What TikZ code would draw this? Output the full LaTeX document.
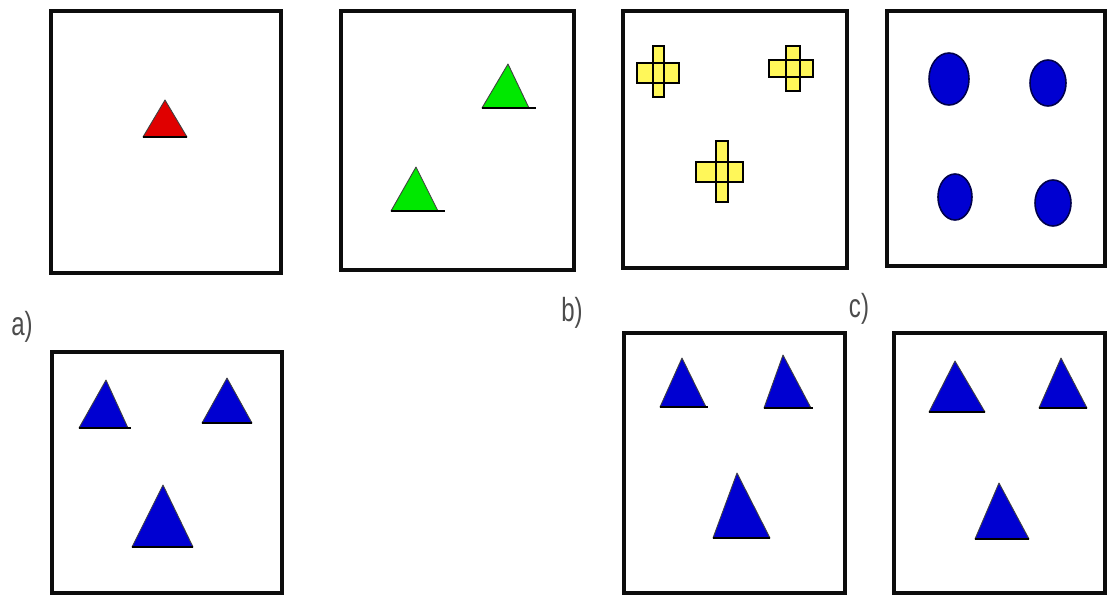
\documentclass[tikz,border=0pt]{standalone}
\usepackage{fontspec}
\setsansfont{Liberation Sans}
\usetikzlibrary{positioning}

\begin{document}
\begin{tikzpicture}[
  x=0.02cm, y=-0.02cm,
  frame/.style={draw=black!95, line width=1.8pt},
  tri/.style  ={draw=black!75, line width=0.5pt, line join=round},
  base/.style ={black, line width=1.4pt},
  plus/.style ={fill=yellow!65, draw=black, line width=1.1pt},
  blob/.style ={fill=blue!82!black, draw=blue!30!black, line width=0.9pt},
  lbl/.style  ={font=\sffamily\fontsize{19}{20}\selectfont, text=black!70,
                inner sep=0pt, xscale=0.72},
  redt/.style ={tri, fill=red!88!black},
  greent/.style={tri, fill=green!85!black!60!green},
  bluet/.style={tri, fill=blue!82!black}
]
\useasboundingbox (0,0) rectangle (1107,596);

%% ---- Frames --------------------------------------------------------
\draw[frame] (51,11)   rectangle (281,273);
\draw[frame] (341,11)  rectangle (574,270);
\draw[frame] (623,11)  rectangle (847,268);
\draw[frame] (887,11)  rectangle (1105,266);
\draw[frame] (52,352)  rectangle (282,593);
\draw[frame] (624,333) rectangle (845,593);
\draw[frame] (894,333) rectangle (1105,593);

%% ---- Labels --------------------------------------------------------
\node[lbl] (la) at (22,327)  {a)};
\node[lbl] (lb) at (572,313) {b)};
\node[lbl] (lc) at (859,309) {c)};

%% ---- Red triangle --------------------------------------------------
\filldraw[redt] (143,137) -- (187,137) -- (165,100) -- cycle;
\draw[base] (143,137) -- (187,137);

%% ---- Green triangles ----------------------------------------------
\filldraw[greent] (482,108) -- (529,108) -- (508,64) -- cycle;
\draw[base] (482,108) -- (536,108);
\filldraw[greent] (391,211) -- (438,211) -- (416,167) -- cycle;
\draw[base] (391,211) -- (445,211);

%% ---- Yellow crosses -----------------------------------------------
\fill[plus, draw=none] (637,63) rectangle (679,83) (653,46) rectangle (664,97);
\draw[plus, fill=none] (637,63) rectangle (679,83) (653,46) rectangle (664,97);
\fill[plus, draw=none] (769,60) rectangle (813,77) (786,46) rectangle (800,91);
\draw[plus, fill=none] (769,60) rectangle (813,77) (786,46) rectangle (800,91);
\fill[plus, draw=none] (696,162) rectangle (743,182) (716,141) rectangle (728,202);
\draw[plus, fill=none] (696,162) rectangle (743,182) (716,141) rectangle (728,202);

%% ---- Blue dots -----------------------------------------------------
\filldraw[blob] (949,79)  ellipse [x radius=20, y radius=26];
\filldraw[blob] (1048,83) ellipse [x radius=18, y radius=23];
\filldraw[blob] (955,197) ellipse [x radius=17, y radius=23];
\filldraw[blob] (1053,203) ellipse [x radius=18, y radius=23];

%% ---- Blue triangles: a) -------------------------------------------
\filldraw[bluet] (79,428) -- (128,428) -- (106,380) -- cycle;
\draw[base] (79,428) -- (131,428);
\filldraw[bluet] (202,423) -- (252,423) -- (227,378) -- cycle;
\draw[base] (202,423) -- (252,423);
\filldraw[bluet] (132,547) -- (193,547) -- (163,485) -- cycle;
\draw[base] (132,547) -- (193,547);

%% ---- Blue triangles: b) -------------------------------------------
\filldraw[bluet] (660,407) -- (706,407) -- (682,358) -- cycle;
\draw[base] (660,407) -- (708,407);
\filldraw[bluet] (764,408) -- (811,408) -- (783,355) -- cycle;
\draw[base] (764,408) -- (813,408);
\filldraw[bluet] (713,538) -- (770,538) -- (737,473) -- cycle;
\draw[base] (713,538) -- (770,538);

%% ---- Blue triangles: c) -------------------------------------------
\filldraw[bluet] (929,412) -- (985,412) -- (955,361) -- cycle;
\draw[base] (929,412) -- (985,412);
\filldraw[bluet] (1039,408) -- (1087,408) -- (1061,358) -- cycle;
\draw[base] (1039,408) -- (1087,408);
\filldraw[bluet] (975,539) -- (1029,539) -- (999,483) -- cycle;
\draw[base] (975,539) -- (1029,539);

\end{tikzpicture}
\end{document}
